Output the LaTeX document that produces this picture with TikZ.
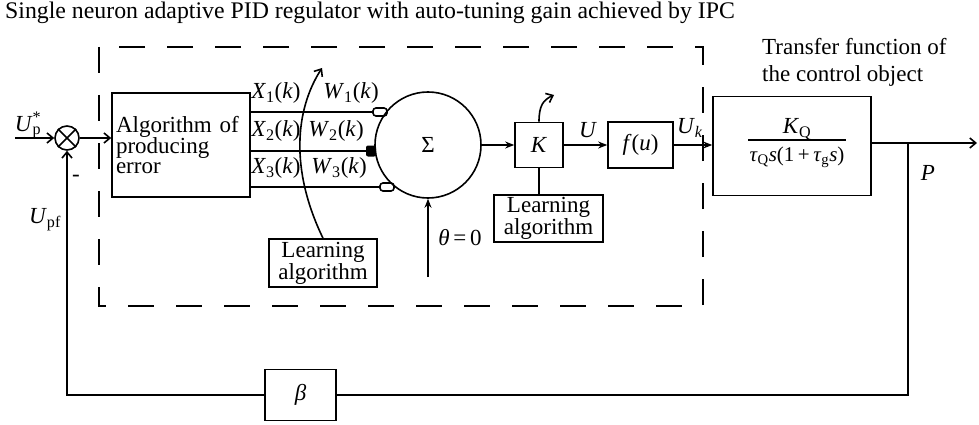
\documentclass[tikz,border=0pt]{standalone}
\usepackage{fontspec}
\setmainfont{Liberation Serif}
\usetikzlibrary{arrows.meta}
\newcommand{\xkl}[2]{\textit{#1}\textsubscript{#2}(\textit{k})}
\begin{document}
\begin{tikzpicture}[x=1pt,y=-1pt,
  lw/.style={line width=1.6pt},
  blk/.style={draw,line width=1.6pt,inner sep=2pt,font=\fontsize{23}{20}\selectfont},
  lbl/.style={font=\fontsize{23}{24}\selectfont,inner sep=0pt},
  fa/.style={-{Stealth[length=9pt,width=7pt]}},
  oa/.style={-{Straight Barb[length=6pt,width=10pt]}},
]
\useasboundingbox (0,0) rectangle (979,425);

% title
\node[anchor=base west,inner sep=0pt,font=\fontsize{23.8}{26}\selectfont] (title) at (5,19)
  {Single neuron adaptive PID regulator with auto-tuning gain achieved by IPC};

% dashed frame of the regulator
\draw[line width=1.8pt,dash pattern=on 26pt off 22pt] (99,47) rectangle (703,306);

% summing junction
\node[circle,draw,line width=1.6pt,minimum size=24pt,inner sep=0pt] (sum) at (67,138) {};
\draw[line width=1.6pt] (sum.north west) -- (sum.south east) (sum.north east) -- (sum.south west);

% blocks
\node[blk,minimum width=138pt,minimum height=104pt,text width=130pt,align=left] (alg) at (181,145)
  {Algorithm of\\producing\\error};
\node[circle,draw,line width=1.6pt,minimum size=106pt,inner sep=0pt,font=\fontsize{23}{24}\selectfont] (sigma) at (428,145) {Σ};
\node[blk,minimum width=108pt,minimum height=48pt,align=center] (la1) at (323,263) {Learning\\algorithm};
\node[blk,minimum width=48pt,minimum height=45pt] (K) at (539,145) {\textit{K}};
\node[blk,minimum width=109pt,minimum height=47pt,align=center] (la2) at (548.5,218.5) {Learning\\algorithm};
\node[blk,minimum width=65pt,minimum height=46pt] (f) at (640.5,145) {\textit{f}(\textit{u})};
\node[blk,minimum width=158pt,minimum height=99pt] (tf) at (792,146) {};
\node[blk,minimum width=71pt,minimum height=51pt] (beta) at (300.5,395) {\textit{β}};

% transfer function
\node[lbl] (num) at (797,129) {\textit{K}\textsubscript{Q}};
\draw[line width=1.2pt] (748,140) -- (846,140);
\node[lbl,font=\fontsize{21}{22}\selectfont] (den) at (797,157)
  {\textit{τ}\textsubscript{Q}\textit{s}(1\,+\,\textit{τ}\textsubscript{g}\textit{s})};
\node[lbl,anchor=base west] (tfl1) at (762,55) {Transfer function of};
\node[lbl,anchor=base west] (tfl2) at (762,82) {the control object};

% coordinates
\coordinate (in) at (15,138);
\coordinate (s1) at (373,112);
\coordinate (s2) at (366,151);
\coordinate (s3) at (380,187);
\coordinate (lt1) at (322,68);
\coordinate (th) at (428,277);
\coordinate (kt) at (554,95);
\coordinate (out) at (977,143);
\coordinate (br) at (908,143);
\coordinate (fbR) at (908,395);
\coordinate (fbL) at (67,395);

% connectors
\draw[lw,oa] (in) -- (sum.west);
\draw[lw,oa] (sum.east) -- (sum.east -| alg.west);
\draw[lw] (alg.east |- s1) -- (s1);
\draw[lw] (alg.east |- s2) -- (s2);
\draw[lw] (alg.east |- s3) -- (s3);
\draw[lw,rounded corners=3pt] (373,108) rectangle (387,116);
\fill[rounded corners=2pt] (366,145.5) rectangle (376,156.5);
\draw[lw,rounded corners=3pt] (380,183) rectangle (394,191);
\draw[lw,oa] (la1.north) .. controls (290,170) and (295,110) .. (lt1);
\draw[lw,fa] (th) -- (sigma.south);
\draw[lw,fa] (sigma.east) -- (K.west);
\draw[lw,oa] (K.north) .. controls (539,106) and (543,100) .. (kt);
\draw[lw] (K.south) -- (K.south |- la2.north);
\draw[lw,fa] (K.east) -- (f.west);
\draw[lw,fa] (f.east) -- (f.east -| tf.west);
\draw[lw,oa] (tf.east |- out) -- (out);
\draw[lw] (br) -- (fbR) -- (beta.east);
\draw[lw,oa] (beta.west) -- (fbL) -- (sum.south);

% labels
\node[lbl] (x1) at (276,93) {\xkl{X}{1}};
\node[lbl] (x2) at (276,131) {\xkl{X}{2}};
\node[lbl] (x3) at (276,168) {\xkl{X}{3}};
\node[lbl] (w1) at (351,93) {\xkl{W}{1}};
\node[lbl] (w2) at (336,131) {\xkl{W}{2}};
\node[lbl] (w3) at (339,168) {\xkl{W}{3}};
\node[lbl] (up) at (28,125) {\textit{U}\rlap{\textsuperscript{*}}\textsubscript{p}};
\node[lbl] (upf) at (45,220) {\textit{U}\textsubscript{pf}};
\node[lbl] (minus) at (76,178) {-};
\node[lbl] (ulab) at (588,130) {\textit{U}};
\node[lbl] (uk) at (690,128) {\textit{U}\textsubscript{\textit{k}}};
\node[lbl] (theta) at (460,238) {\textit{θ}\,=\,0};
\node[lbl] (plab) at (928,173) {\textit{P}};
\end{tikzpicture}
\end{document}
